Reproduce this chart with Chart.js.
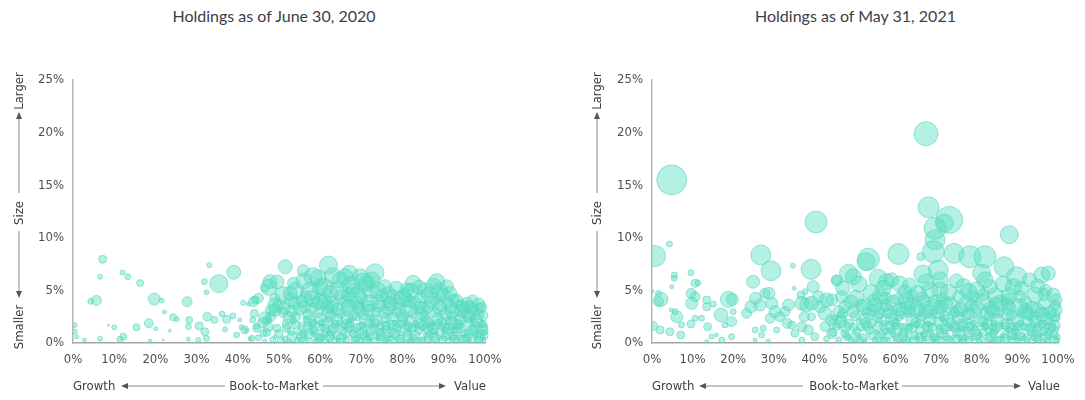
<!DOCTYPE html>
<html>
<head>
<meta charset="utf-8">
<script src="https://cdn.jsdelivr.net/npm/chart.js@4.4.1/dist/chart.umd.min.js"></script>
<style>
  html,body{margin:0;padding:0;background:#fff;}
  #wrap{position:relative;width:1085px;height:400px;overflow:hidden;font-family:'Liberation Sans Narrow','DejaVu Sans Condensed',Lato,sans-serif;color:#3b4048;}
  .title{position:absolute;top:6px;font-family:Lato,'Open Sans',sans-serif;font-size:16px;color:#3b4048;text-align:center;}
  .cv{position:absolute;top:0;}
  .lab{position:absolute;font-size:13px;line-height:16px;color:#3b4048;white-space:nowrap;}
  .vlab{position:absolute;font-size:13px;line-height:16px;color:#3b4048;white-space:nowrap;transform:translate(-50%,-50%) rotate(-90deg);}
  svg{position:absolute;left:0;top:0;}
</style>
</head>
<body>
<div id="wrap">
  <div class="title" style="left:0;width:548px;">Holdings as of June 30, 2020</div>
  <div class="title" style="left:583px;width:545px;">Holdings as of May 31, 2021</div>
  <div class="cv" style="left:0;width:545px;height:400px;"><canvas id="c1" width="545" height="400"></canvas></div>
  <div class="cv" style="left:545px;width:540px;height:400px;"><canvas id="c2" width="540" height="400"></canvas></div>

  <div class="vlab" style="left:19px;top:91px;">Larger</div>
  <div class="vlab" style="left:19px;top:213px;">Size</div>
  <div class="vlab" style="left:19px;top:327px;">Smaller</div>
  <div class="vlab" style="left:597px;top:91px;">Larger</div>
  <div class="vlab" style="left:597px;top:213px;">Size</div>
  <div class="vlab" style="left:597px;top:327px;">Smaller</div>

  <div class="lab" style="left:73px;top:378px;">Growth</div>
  <div class="lab" style="left:228px;top:378px;width:92px;text-align:center;">Book-to-Market</div>
  <div class="lab" style="left:454px;top:378px;">Value</div>
  <div class="lab" style="left:652px;top:378px;">Growth</div>
  <div class="lab" style="left:808px;top:378px;width:92px;text-align:center;">Book-to-Market</div>
  <div class="lab" style="left:1028px;top:378px;">Value</div>

  <svg width="1085" height="400">
    <g stroke="#888" stroke-width="1" fill="#555">
      <line x1="19" y1="118" x2="19" y2="193"/><polygon points="19,112 16,119 22,119" stroke="none"/>
      <line x1="19" y1="231" x2="19" y2="292"/><polygon points="19,298 16,291 22,291" stroke="none"/>
      <line x1="597" y1="118" x2="597" y2="193"/><polygon points="597,112 594,119 600,119" stroke="none"/>
      <line x1="597" y1="231" x2="597" y2="292"/><polygon points="597,298 594,291 600,291" stroke="none"/>

      <line x1="128" y1="386" x2="225" y2="386"/><polygon points="121,386 128,383 128,389" stroke="none"/>
      <line x1="323" y1="386" x2="439" y2="386"/><polygon points="446,386 439,383 439,389" stroke="none"/>
      <line x1="706" y1="386" x2="803" y2="386"/><polygon points="699,386 706,383 706,389" stroke="none"/>
      <line x1="902" y1="386" x2="1014" y2="386"/><polygon points="1021,386 1014,383 1014,389" stroke="none"/>
    </g>
  </svg>
</div>
<script>
// ---- Data: [book-to-market %, size %, bubble radius] ----
const xTicks = [0,10,20,30,40,50,60,70,80,90,100];
const yTicks = [0,5,10,15,20,25];

const upper2020 = [
 [7.2,7.96,4],[6.6,6.3,2.5],[12.0,6.7,2.5],[13.3,6.3,3],[16.3,5.7,3.5],[5.7,4.05,5],[4.3,3.96,3],
 [19.7,4.18,6],[21.5,4.05,2.5],[22.2,2.95,2],[27.7,3.93,5],[33.1,7.4,2.5],[35.4,5.64,9],[39.0,6.72,7],
 [31.9,5.83,3],[32.4,4.82,2.5],[0.4,1.71,2.5],[0.4,1.07,2.5],[0.9,0.6,2],[2.8,0.29,2],[6.6,0.41,2.5],
 [10.0,1.49,2.5],[8.6,1.7,1],[12.2,0.6,3.5],[11.4,0.35,3],[15.4,1.49,3.5],[18.4,1.87,4.5],[20.1,1.36,2],
 [18.7,0.19,2],[24.3,2.44,3.5],[25.2,2.25,2.5],[23.5,1.17,1.5],[21.9,0.29,1],[28.2,2.19,3.5],[28.0,1.55,3],
 [30.6,1.62,4],[32.6,2.5,4.5],[34.3,2.19,3.5],[36.2,2.76,3],[37.3,2.25,4],[38.8,2.57,3],[36.9,1.3,2.5],
 [32.0,1.07,4],[32.4,0.44,3],[30.4,0.29,2.5],[28.0,0.35,2],[39.7,0.76,3],[40.9,1.49,2.5],[40.5,2.19,2],
 [41.7,1.24,4],[41.3,3.83,2.5],[42.6,3.7,2],[43.8,3.93,5],[44.2,4.09,4],[45.0,4.25,5],[47.8,5.83,7],
 [48.2,3.14,6],[43.6,2.19,3],[44.6,1.4,4],[46.2,0.92,3.5],[43.4,0.44,3],[47.4,1.55,5],[47.0,2.19,4],
 [51.5,7.25,7],[62.0,7.41,9],[55.9,6.87,6],[58.3,6.3,9],[67.1,6.63,8],[69.7,6.3,8],[73.3,6.68,9],
 [64.8,5.99,8],[75.7,5.35,7],[71.3,5.67,8],[72.1,5.04,8],[82.6,5.67,8],[88.3,5.83,8],[90.7,5.35,7],
 [85.4,5.04,7],[81.0,5.04,7],[77.7,4.4,7],[81.0,4.09,7],[89.9,4.56,7],[93.9,3.61,5],[95.6,3.77,6],
 [98.8,3.3,5],[97.2,2.98,5],[46.6,5.2,4],[53.5,5.67,6],[52.7,4.72,7],[49.0,4.25,5],[55.5,3.93,6],
 [60.0,5.35,8],[62.4,4.72,8],[60.0,3.93,8],[65.2,4.4,7],[68.0,5.04,7],[68.9,3.77,7],[74.1,3.93,7]
];
const dense2020 = [
 [50,3.6,6],[53,3.0,6],[56.5,4.4,6],[58,3.3,6],[61,4.0,7],[63,3.4,6],[66,3.9,6],[67,4.6,7],[70,4.3,6],
 [71.5,3.5,6],[75,4.5,6],[76.5,3.2,6],[79,3.8,6],[80.5,4.6,6],[83,3.9,6],[84.5,4.4,6],[86,3.4,6],
 [88,4.2,6],[91,3.8,6],[92.5,4.2,5],[95,3.3,6],[97,4.0,6],[99.5,2.6,5],
 [44,2.8,4],[46,1.9,5],[48,2.5,5],[49.5,1.4,4],[51,2.9,5],[52,1.8,5],[54,2.5,5],[55.5,1.6,4],[57,2.7,5],
 [58.5,1.7,5],[59.5,2.9,5],[61,1.9,5],[62.5,2.6,5],[63.5,1.5,5],[65,2.8,5],[66.5,1.8,5],[68,2.6,5],
 [69,1.5,4],[70.5,2.7,5],[72,1.9,5],[73.5,2.9,5],[74.5,1.6,4],[76,2.4,5],[77.5,1.7,5],[78.5,2.9,5],
 [80,2.1,5],[81.5,1.5,4],[82.5,2.8,5],[84,1.9,5],[85.5,2.5,5],[87,1.6,4],[88,2.9,5],[89.5,2.0,5],
 [90.5,1.5,4],[92,2.6,5],[93.5,1.8,5],[94.5,2.8,5],[96,2.0,5],[97.5,1.6,4],[98.5,2.7,5],[99.5,1.8,4],
 [45,0.5,3],[47,1.0,4],[48.5,0.3,3],[50,0.9,4],[51.5,0.4,3],[53,1.1,4],[54.5,0.3,3],[56,0.8,4],
 [57.5,0.2,3],[58.5,1.2,4],[60,0.5,4],[61.5,1.0,4],[62.5,0.2,3],[64,0.7,4],[65.5,1.2,4],[66.5,0.3,3],
 [68,0.9,4],[69.5,0.4,4],[70.5,1.2,4],[72,0.6,4],[73,0.2,3],[74.5,1.0,4],[76,0.4,4],[77,1.2,4],
 [78.5,0.6,4],[80,0.2,3],[81,1.0,4],[82.5,0.5,4],[84,1.2,4],[85,0.3,3],[86.5,0.8,4],[88,0.3,4],
 [89,1.1,4],[90.5,0.6,4],[92,0.2,3],[93,1.0,4],[94.5,0.4,4],[96,1.1,4],[97,0.3,3],[98.5,0.8,4],[99.5,0.3,3],
 [42,1.2,2],[43,0.4,2],[44.5,1.6,3],[46.5,0.2,2],[47.5,2.2,3],[49,0.6,2],[52.5,0.2,2],[53.5,2.1,3],
 [55,1.0,3],[56.5,2.3,3],[59,0.3,2],[60.5,1.5,3],[62,2.2,3],[63,0.6,2],[64.5,1.9,3],[66,0.6,2],
 [67.5,2.2,3],[69,2.4,3],[71,0.9,3],[72.5,2.4,3],[74,0.4,2],[75.5,1.8,3],[77,0.7,2],[79,1.3,3],
 [80.5,2.6,3],[82,0.3,2],[83.5,1.6,3],[85,1.4,3],[86,2.1,3],[87.5,1.1,3],[89,0.5,2],[91,2.2,3],
 [92.5,1.2,3],[94,1.5,3],[95.5,0.7,2],[97,2.3,3],[98,1.3,3],[99.7,1.0,3]
];
const mass2020 = [
 [49.5,5.8,7],[51,4.6,8],[54,5.0,8],[56,5.9,8],[57.5,4.9,9],[59.5,6.2,8],[61,5.3,9],[63,6.4,8],[64.5,5.0,9],
 [66,6.3,8],[67.5,5.5,9],[69,4.6,8],[70.5,5.8,9],[72.5,6.0,8],[74,5.0,8],[76.5,4.6,8],[78.5,5.2,7],[80,4.3,8],
 [82,4.9,8],[84,5.3,7],[86.5,4.6,8],[87.5,5.4,8],[89,4.9,8],[91.5,4.7,7],[93,4.0,7],[94.5,3.5,6],[96.5,3.4,6],
 [98.5,3.7,6],[53,4.1,7],[58,4.2,8],[62.5,3.7,8],[67,3.3,8],[72,3.8,8],[77,3.7,7],[81.5,3.3,8],[85,3.2,7],
 [89,3.3,7],[92,3.0,7],[96,2.7,6],[47.5,5.3,8],[49,3.6,7],
 [46.5,2.4,6],[49,3.1,6],[52.5,2.4,6],[55,3.2,6],[57.5,2.1,6],[60,2.3,6],[62,3.0,6],[64,2.2,6],[66.5,2.4,6],
 [69.5,3.2,6],[71,2.2,6],[73.5,2.1,6],[75.5,2.9,6],[77.5,2.3,6],[80,2.6,6],[82,2.0,6],[84.5,2.8,6],[86,2.0,6],
 [88.5,2.3,6],[90.5,2.7,6],[92,1.9,6],[94,2.3,6],[96,2.5,6],[98,2.2,6],[99.5,1.2,5],
 [55.5,0.6,5],[57,1.5,5],[59.5,0.8,5],[61,0.3,4],[63,1.3,5],[65,0.4,5],[67,1.5,5],[68.5,0.3,4],[70,0.9,5],
 [71.5,0.3,4],[73,1.4,5],[75,0.5,5],[76,1.6,4],[78,0.9,5],[79.5,0.4,4],[81,1.6,5],[83,0.8,5],[84.5,0.2,4],
 [86,1.4,5],[87.5,0.5,5],[89.5,1.6,4],[91,0.9,5],[92.5,0.4,4],[94,1.4,5],[95.5,0.5,4],[97,1.2,5],[98.5,0.3,4],
 [99.8,0.7,4],
 [58,0.9,2],[60.3,1.9,3],[62.2,0.9,3],[64.2,0.3,2],[65.8,1.6,3],[68.2,1.3,3],[70.2,1.7,3],[71.8,0.6,2],
 [73.8,0.7,3],[75.2,1.3,2],[76.8,0.1,3],[78.2,1.9,3],[79.8,0.9,2],[81.8,0.2,3],[83.2,1.9,3],[85.5,0.8,2],
 [87.2,1.8,3],[88.2,0.9,2],[90.2,1.2,3],[91.8,1.7,3],[93.2,0.5,2],[94.8,0.9,3],[96.2,0.3,2],[97.8,0.8,3],[99.2,1.8,3]
];
const base2020 = [
 [50.5,0.2,4],[51.8,1.4,4],[53.2,0.6,5],[54.3,1.7,4],[55.8,0.2,4],[57.3,0.9,5],[58.2,1.9,4],[59.7,0.4,5],
 [61.2,1.4,4],[62.3,0.6,5],[63.6,1.8,4],[64.8,0.1,4],[66.2,1.0,5],[67.3,1.9,4],[68.7,0.6,5],[69.8,1.6,4],
 [71.2,0.2,4],[72.3,1.2,5],[73.6,1.9,4],[74.8,0.7,5],[76.2,1.3,4],[77.4,0.2,5],[78.6,1.4,4],[79.8,1.8,4],
 [81.2,0.6,5],[82.3,1.4,4],[83.6,0.1,4],[84.8,1.7,5],[86.2,0.5,4],[87.3,1.3,5],[88.6,1.9,4],[89.8,0.3,4],
 [91.2,1.4,5],[92.3,0.7,4],[93.6,1.8,4],[94.8,0.2,5],[96.2,0.9,4],[97.4,1.9,4],[98.6,0.5,5],[99.7,1.5,4],
 [51.2,3.3,6],[53.8,3.8,6],[56.2,3.4,6],[59.2,3.8,6],[61.8,3.4,6],[64.2,3.2,6],[66.8,3.6,6],[69.2,3.4,6],
 [71.8,3.1,6],[74.2,3.5,6],[76.8,3.9,6],[79.2,3.2,6],[81.8,3.9,6],[84.2,3.4,6],[86.8,3.9,6],[89.2,3.6,6],
 [91.8,3.4,6],[94.2,3.1,6],[97.2,3.3,5],[99.2,3.4,5]
];

const upper2021 = [
 [4.85,15.5,15],[0.74,8.27,10.5],[4.3,9.4,3],[40.4,11.5,11],[26.8,8.37,10],[29.3,6.87,10],[39.2,7.0,10],
 [24.9,5.83,6.5],[39.7,5.35,6],[48.4,6.63,9],[45.5,5.92,5.5],[34.7,7.35,2.5],[35.0,5.2,2],[5.5,6.46,3],
 [5.5,6.15,3],[9.6,6.68,3],[10.6,5.67,4],[11.3,5.73,3],[9.6,4.72,5],[10.6,4.4,5],[9.8,3.77,6],[2.2,4.15,7],
 [1.6,3.93,5],[4.85,5.35,2],[1.6,4.72,3],[6.1,2.5,6],[5.7,2.98,3],[4.7,3.14,2],[0.3,1.62,4.5],[2.0,1.24,4],
 [4.4,1.07,4],[7.3,1.71,3],[7.1,0.76,4],[9.6,1.81,4],[10.6,2.35,3],[12.2,2.35,3],[13.5,3.45,4],[13.5,4.09,4],
 [15.1,3.7,3],[17.0,2.66,7],[18.8,4.15,8],[19.8,4.15,6],[20.0,2.98,3],[19.6,2.03,5],[18.0,1.71,3],[13.7,1.55,4],
 [15.9,0.76,2],[14.7,0.6,2.5],[13.5,0.13,2],[19.6,0.6,3],[17.2,0.29,3],[23.3,2.82,5],[24.4,3.45,6],[25.5,4.25,6],
 [26.6,3.61,6],[27.8,4.72,5],[28.8,4.72,6],[29.5,3.77,6],[30.3,2.98,6],[29.1,2.35,5],[31.5,2.5,5],[33.6,3.61,6],
 [32.8,2.98,5],[33.3,1.87,5],[30.7,1.24,3],[27.4,1.4,3],[25.4,1.24,3],[27.0,0.76,3],[28.6,0.13,2.5],[25.4,0.29,2],
 [37.7,4.88,3],[36.7,4.56,4],[36.9,3.77,7],[38.1,3.61,7],[39.3,3.77,7],[41.0,4.4,6],[41.4,3.45,6],[43.0,4.09,7],
 [44.3,4.09,6],[42.6,2.82,7],[37.5,2.5,5],[39.3,2.5,4],[36.9,1.55,5],[35.2,0.92,4],[34.4,1.71,4],[38.5,1.24,5],
 [40.1,0.6,4],[36.9,0.29,3],[42.6,1.55,5],[44.7,1.87,5],[44.3,0.92,5],[46.7,2.5,5],[47.5,1.55,6],[48.0,0.6,4],
 [46.7,4.4,6],[47.5,3.45,6],[0.1,4.9,1.5],
 [67.5,19.9,12],[68.1,12.9,10.5],[73.2,11.7,13.5],[72.0,11.4,9],[69.7,10.9,11],[69.7,9.8,10],[88.0,10.3,9],
 [60.7,8.46,10.5],[69.3,8.68,11],[66.2,8.2,4],[74.4,8.52,10],[78.3,8.2,11],[82.0,8.2,11],[53.3,7.96,11],
 [52.7,7.73,9],[70.5,6.94,10],[66.7,6.56,9],[86.7,7.25,10],[89.8,6.3,10],[96.0,6.46,8],[97.6,6.63,7],
 [81.2,6.63,9],[49.6,6.3,8],[55.7,6.15,9],[57.8,5.83,8],[62.3,4.88,7],[68.5,5.04,8],[70.9,5.04,8],
 [76.7,5.35,8],[80.0,5.04,8],[83.3,5.35,7],[89.0,5.35,8],[94.3,4.56,8],[98.8,4.56,7],[99.3,3.14,7],
 [50.2,4.25,8],[52.5,3.45,8],[56.2,4.4,8],[59.4,3.77,8],[62.7,4.09,8],[65.2,3.14,8],[69.3,3.45,8],
 [73.4,3.61,8],[77.5,3.77,8],[81.6,3.93,8],[85.7,3.77,8],[90.6,3.45,8],[94.8,3.14,7],[45.5,6.0,5]
];
const dense2021 = [
 [46,3.0,6],[49,3.9,7],[54.5,3.1,6],[57.5,4.3,6],[61,3.2,7],[64,4.5,6],[67,3.9,7],[71.5,4.2,6],[75,3.0,6],
 [79,4.4,6],[83.5,3.3,7],[87.5,4.1,6],[92,3.9,6],[96.5,3.7,6],[99,2.6,6],
 [44,2.2,5],[45.5,1.6,4],[47,2.8,5],[48.5,1.8,5],[50,2.6,5],[51.5,1.5,4],[53,2.9,5],[54,1.9,5],[55.5,2.5,5],
 [57,1.6,4],[58,2.8,5],[59.5,2.0,5],[61,2.6,5],[62,1.5,4],[63.5,2.9,5],[65,1.9,5],[66.5,2.6,5],[67.5,1.6,4],
 [69,2.8,5],[70.5,2.0,5],[72,2.6,5],[73,1.5,4],[74.5,2.9,5],[76,1.8,5],[77.5,2.6,5],[78.5,1.6,4],[80,2.8,5],
 [81.5,2.0,5],[83,2.6,5],[84,1.5,4],[85.5,2.9,5],[87,1.8,5],[88.5,2.6,5],[89.5,1.6,4],[91,2.8,5],[92.5,2.0,5],
 [94,2.6,5],[95,1.5,4],[96.5,2.9,5],[98,1.9,5],[99.5,2.4,4],
 [43,0.4,3],[44.5,1.0,4],[46,0.3,3],[47.5,0.9,4],[49,0.3,3],[50.5,1.1,4],[52,0.5,4],[53.5,1.2,4],[55,0.3,3],
 [56.5,0.8,4],[58,0.2,3],[59,1.2,4],[60.5,0.5,4],[62,1.0,4],[63,0.2,3],[64.5,0.7,4],[66,1.2,4],[67,0.3,3],
 [68.5,0.9,4],[70,0.4,4],[71,1.2,4],[72.5,0.6,4],[73.5,0.2,3],[75,1.0,4],[76.5,0.4,4],[77.5,1.2,4],[79,0.6,4],
 [80.5,0.2,3],[81.5,1.0,4],[83,0.5,4],[84.5,1.2,4],[85.5,0.3,3],[87,0.8,4],[88.5,0.3,4],[89.5,1.1,4],[91,0.6,4],
 [92.5,0.2,3],[93.5,1.0,4],[95,0.4,4],[96.5,1.1,4],[97.5,0.3,3],[99,0.8,4],[99.7,0.2,3],
 [45,2.4,3],[48,0.6,2],[51,2.1,3],[52.5,0.2,2],[56,2.2,3],[57.5,1.1,3],[60,1.6,3],[61.5,0.2,2],[63.5,1.5,3],
 [65.5,0.5,2],[68,1.8,3],[69.5,0.2,2],[71.5,2.3,3],[74,1.4,3],[76,0.2,2],[78,2.1,3],[79.5,1.4,3],[82,1.7,3],
 [84,0.3,2],[86,1.6,3],[88,2.1,3],[90,0.3,2],[91.5,1.5,3],[93,2.4,3],[95.5,0.8,2],[97.5,1.6,3],[99.5,1.3,3]
];
const mass2021 = [
 [47,5.2,7],[51,5.6,8],[54,4.8,8],[57,5.2,8],[59,6.0,7],[61,5.6,8],[63.5,5.5,7],[65.5,4.7,8],[67.5,5.8,8],
 [71,6.0,8],[73,4.8,8],[75,5.9,7],[78,4.9,8],[82,6.0,8],[84.5,4.5,8],[86.5,5.6,8],[88,4.5,8],[91,5.2,7],
 [93,6.0,7],[95,5.4,7],[97,5.0,6],[99.5,4.1,6],[98,2.9,6],
 [55,3.6,7],[58,3.0,7],[63,3.4,7],[67.5,3.0,7],[71,3.4,7],[76,3.2,7],[80,3.4,7],[84,3.0,7],[88,3.3,7],
 [92,3.1,7],[96,2.7,7],
 [46.5,2.0,6],[49.5,3.0,6],[52.5,2.3,6],[56,2.9,6],[59,2.3,6],[61.5,2.9,6],[64,2.2,6],[66,3.1,6],[68.5,2.2,6],
 [70.5,2.9,6],[73,2.2,6],[75.5,2.4,6],[78,2.8,6],[80.5,2.1,6],[82.5,2.9,6],[85,2.2,6],[87.5,2.7,6],[90,2.1,6],
 [92.5,2.8,6],[94.5,2.0,6],[97,2.3,6],[99.3,1.7,5],
 [50,0.6,5],[53,1.6,5],[56,0.5,5],[58.5,1.6,5],[60,0.9,5],[62.5,0.3,4],[64,1.4,5],[66,0.5,5],[68,1.5,5],
 [69.5,0.6,4],[71.5,0.9,5],[73,0.3,4],[74.5,1.5,5],[76,0.8,5],[78,1.5,5],[80,0.8,5],[82,1.6,4],[83.5,0.6,5],
 [85,1.5,5],[87,0.4,5],[88.5,1.4,5],[90.5,0.7,5],[92,1.5,4],[94,0.7,5],[95.5,1.6,5],[97,0.6,5],[98.5,1.5,4],
 [55.2,1.1,2],[57.2,1.9,3],[59.8,0.2,2],[61.2,1.6,3],[62.8,0.8,2],[65.2,1.8,3],[66.8,0.8,3],[68.8,0.2,2],
 [70.8,1.5,3],[72.2,1.9,3],[74.2,0.6,2],[75.8,1.4,3],[77.2,0.5,3],[79.2,1.9,3],[80.8,0.8,2],[82.8,1.2,3],
 [84.2,1.9,3],[86.2,0.7,2],[87.8,1.3,3],[89.2,0.6,3],[90.8,1.9,3],[92.2,0.8,2],[93.8,1.7,3],[96.2,0.2,2],
 [97.8,1.0,3],[99.8,0.6,3]
];
const base2021 = [
 [49.6,1.5,4],[51.1,0.3,4],[52.6,1.9,5],[54.1,0.7,4],[55.6,1.5,5],[57.1,0.2,4],[58.6,0.9,5],[60.1,1.9,4],
 [61.6,0.6,5],[63.1,1.4,4],[64.6,0.2,5],[66.1,1.9,4],[67.6,0.7,5],[69.1,1.5,4],[70.6,0.2,5],[72.1,1.3,4],
 [73.6,1.9,5],[75.1,0.4,4],[76.6,1.6,5],[78.1,0.3,4],[79.6,1.1,5],[81.1,0.2,4],[82.6,1.8,5],[84.1,0.9,4],
 [85.6,0.2,5],[87.1,1.6,4],[88.6,0.8,5],[90.1,1.6,4],[91.6,0.2,5],[93.1,1.4,4],[94.6,0.6,5],[96.1,1.8,4],
 [97.6,0.9,5],[99.1,0.3,4],
 [51.6,3.6,6],[54.6,4.1,6],[57.6,3.6,6],[60.6,4.2,6],[63.6,3.7,6],[66.6,4.3,6],[69.6,4.0,6],[72.6,3.8,6],
 [75.6,4.4,6],[78.6,3.6,6],[81.6,4.6,6],[84.6,3.8,6],[87.6,3.7,6],[90.6,4.4,6],[93.6,3.4,6],[96.6,4.6,6],[99.4,3.6,5]
];

const FILL = 'rgba(92,222,194,0.46)';
const EDGE = 'rgba(82,212,184,0.55)';
const TICK_FONT = {family:"'Liberation Sans Narrow','DejaVu Sans Condensed',Lato,sans-serif", size:13};

function toPoints(arr){ return arr.map(d => ({x:d[0], y:d[1], r:d[2]})); }

function makeChart(id, data, pad){
  return new Chart(document.getElementById(id), {
    type:'bubble',
    data:{datasets:[{
      data: toPoints(data),
      backgroundColor: FILL,
      borderColor: EDGE,
      borderWidth: 1,
      clip: {left:0, top:false, right:6, bottom:0}
    }]},
    options:{
      responsive:false, animation:false,
      layout:{padding:pad},
      plugins:{legend:{display:false}, tooltip:{enabled:false}},
      scales:{
        x:{type:'linear', min:0, max:100,
           afterBuildTicks: s => { s.ticks = xTicks.map(v => ({value:v})); },
           ticks:{callback:v => v+'%', color:'#4a4f57', font:TICK_FONT, padding:9, maxRotation:0, autoSkip:false},
           grid:{display:false, drawTicks:false},
           border:{color:'#a5a5a5', width:1.5},
           afterFit: s => { s.height = 25; }},
        y:{type:'linear', min:0, max:25,
           afterBuildTicks: s => { s.ticks = yTicks.map(v => ({value:v})); },
           ticks:{callback:v => v+'%', color:'#4a4f57', font:TICK_FONT, padding:9, autoSkip:false},
           grid:{display:false, drawTicks:false},
           border:{color:'#b5b5b5', width:1.5},
           afterFit: s => { s.width = 40; }}
      }
    }
  });
}

makeChart('c1', upper2020.concat(dense2020, mass2020, base2020), {left:33, right:60, top:80, bottom:32});
makeChart('c2', upper2021.concat(dense2021, mass2021, base2021), {left:67, right:27, top:80, bottom:32});
</script>
</body>
</html>
